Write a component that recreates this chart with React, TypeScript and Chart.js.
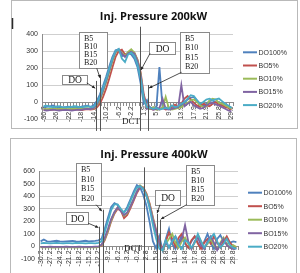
import { useEffect, useRef } from "react";
import { Chart, registerables } from "chart.js";

Chart.register(...registerables);
Chart.defaults.font.family = "Liberation Sans";

const SERIES_NAMES = ["DO100%", "BO5%", "BO10%", "BO15%", "BO20%"];
const SERIES_COLORS = ["#4F81BD", "#C0504D", "#9BBB59", "#8064A2", "#4BACC6"];

// ---- 200 kW: crank angle (deg) and injection pressure (bar) ----
const anglesA = [
  "-30.3", "-29.3", "-28.3", "-27.3", "-26.3", "-25.3", "-24.3", "-23.3", "-22.3", "-21.3",
  "-20.3", "-19.3", "-18.3", "-17.3", "-16.3", "-15.3", "-14.3", "-13.3", "-12.2", "-11.2",
  "-10.2", "-9.2", "-8.2", "-7.2", "-6.2", "-5.2", "-4.2", "-3.2", "-2.2", "-1.2",
  "-0.1", "0.9", "1.9", "2.9", "3.9", "4.9", "5.9", "6.9", "7.9", "8.9",
  "9.9", "10.9", "11.9", "12.9", "13.9", "14.9", "15.9", "16.9", "17.9", "18.9",
  "19.9", "20.9", "21.9", "22.9", "23.8", "24.8", "25.8", "26.8", "27.9", "28.9", "29.9",
];
const do100A = [
  -30, -28, -25, -20, -28, -30, -32, -30, -28, -30, -32, -30, -28, -25, -22, -28,
  -20, 5, 45, 95, 150, 210, 265, 305, 310,
  270, 275, 290, 280, 255, 205, 110, -10, 12, -40,
  -35, -40, 205, -30, -40, -35, -40, -30, -35,
  -20, -5, 15, 25, 30, 10, -15, -25, -10, 5, 10, -5, 0, -15, -20, -25, -35,
];
const bo5A = [
  -45, -45, -48, -45, -42, -45, -48, -45, -45, -42, -45, -45, -48, -45, -42, -45,
  -42, -32, -10, 30, 80, 140, 205, 265, 300,
  308, 280, 285, 298, 290, 250, 175, 45, -25, -40,
  -45, -40, -45, -35, -45, -40, -30, -15, -30,
  -10, 20, 35, 15, -5, -20, -30, -10, -20, -25, -10, 0, -15, -20, -30, -35, -45,
];
const bo10A = [
  -40, -42, -40, -38, -42, -40, -38, -40, -42, -40, -38, -40, -40, -38, -36, -40,
  -38, -20, 10, 60, 115, 175, 240, 290, 308,
  290, 270, 295, 310, 290, 245, 165, 25, -35, -40,
  -30, -45, -40, -35, 30, -35, -45, -40, -35,
  -30, -15, -5, 10, 15, 0, -20, -30, -25, 10, 20, 15, -5, -10, -20, -30, -40,
];
const bo15A = [
  -48, -50, -48, -45, -48, -50, -48, -46, -48, -50, -48, -45, -46, -42, -40, -42,
  -35, -15, 20, 70, 125, 185, 250, 295, 310,
  285, 265, 285, 295, 285, 240, 160, 30, -40, -30,
  -45, -40, -35, 20, -40, -45, -40, -35, -30,
  100, -25, -10, 0, -20, -30, -40, -35, -20, -10, -5, -15, -20, -30, -40, -50, -55,
];
const bo20A = [
  -25, -22, -28, -30, -28, -25, -30, -32, -30, -28, -25, -28, -30, -28, -25, -30,
  -28, -5, 30, 80, 135, 195, 255, 300, 312,
  255, 235, 280, 290, 270, 220, 140, 20, -30, -35,
  -40, -35, -45, -40, -35, -40, -20, -30, -25,
  -10, 0, 20, 40, 35, 10, -10, 0, 15, 20, 10, 15, 20, 5, -10, -20, -35,
];

// ---- 400 kW ----
const anglesB = [
  "-30.2", "-29.2", "-28.2", "-27.2", "-26.2", "-25.2", "-24.2", "-23.2", "-22.2", "-21.2",
  "-20.2", "-19.2", "-18.2", "-17.2", "-16.2", "-15.2", "-14.2", "-13.2", "-12.2", "-11.2",
  "-10.2", "-9.2", "-8.2", "-7.2", "-6.2", "-5.2", "-4.2", "-3.2", "-2.2", "-1.2",
  "-0.2", "0.8", "1.8", "2.8", "3.8", "4.8", "5.8", "6.8", "7.8", "8.8",
  "9.8", "10.8", "11.8", "12.8", "13.8", "14.8", "15.8", "16.8", "17.8", "18.8",
  "19.8", "20.8", "21.8", "22.8", "23.8", "24.8", "25.8", "26.8", "27.8", "28.8",
  "29.8", "30.8",
];
const do100B = [
  40, 55, 40, 38, 42, 45, 40, 38, 40, 42, 44, 40, 38, 42, 45, 40, 42, 44, 48,
  60, 140, 230, 315, 345, 330, 285, 270, 315, 375, 435, 488, 470,
  410, 320, 190, 40, -15, 80, -30, 60, 140, 20,
  -20, 30, 90, 20, -10, 40, 80, 30, -10, 40,
  100, 30, -20, 60, 90, 40, 20, 30, 40, 35,
];
const bo5B = [
  -5, -6, -5, -4, -5, -6, -5, -5, -4, -6, -5, -5, -4, -5, -6, -5, -5, -4, -3,
  5, 50, 120, 200, 260, 300, 285, 225, 250, 305, 365, 425, 470,
  470, 420, 340, 230, 130, 30, -20, 40, 110, 60,
  0, 70, 100, 30, -10, 50, 80, 20, -20, 30,
  60, 20, 80, 30, -10, 40, 80, 30, 0, -10,
];
const bo10B = [
  -8, -8, -7, -8, -9, -8, -7, -8, -8, -7, -8, -9, -8, -7, -8, -8, -7, -8, -6,
  10, 60, 130, 210, 270, 310, 290, 245, 265, 320, 380, 440, 485,
  465, 410, 330, 220, 110, 10, -30, 20, 60, 100,
  30, -10, 40, 70, 20, -20, 30, 90, 40, -10,
  20, 60, 10, -20, 30, 70, 20, -10, 10, -5,
];
const bo15B = [
  -3, -4, -3, -2, -3, -4, -3, -3, -2, -4, -3, -3, -2, -3, -4, -3, -3, -2, -2,
  15, 70, 140, 220, 275, 310, 280, 250, 270, 320, 375, 435, 480,
  460, 400, 320, 210, 120, 15, -25, 30, -10, 40,
  80, 20, 60, 170, 40, -20, 40, 70, 10, -20,
  40, 80, 30, -30, 20, 60, 10, -10, -20, -15,
];
const bo20B = [
  25, 28, 26, 24, 27, 28, 26, 25, 27, 26, 25, 28, 27, 26, 25, 27, 26, 25, 28,
  40, 115, 200, 290, 335, 335, 300, 270, 300, 360, 420, 470, 478,
  455, 400, 300, 170, 60, -20, -30, 50, -10, 40,
  80, 10, -20, 50, 30, -10, 30, 100, 40, -10,
  30, 70, 100, 40, -10, 20, 60, 10, -10, -20,
];

type Pt = [number, number]; // [crank angle, pressure]
type Marker = { angle: number; top: number; bottom: number };
type Callout = { a: Pt; b: Pt; lines: string[] };
type Arrow = { from: Pt; to: Pt };

type Cfg = {
  title: string;
  titleX: number;
  titleY: number;
  angles: string[];
  labelEvery: number;
  series: number[][];
  yMin: number;
  yMax: number;
  padding: { left: number; top: number; right: number; bottom: number };
  yAxisWidth: number;
  legend: { lineX: number; textX: number; y0: number; dy: number };
  frame: { left: number; top: number; right: number; bottom: number };
  handle?: boolean;
  markers: Marker[];
  callouts: Callout[];
  arrows: Arrow[];
  dct: Pt;
};

const cfgA: Cfg = {
  title: "Inj. Pressure 200kW",
  titleX: 153.5,
  titleY: 17,
  angles: anglesA,
  labelEvery: 4,
  series: [do100A, bo5A, bo10A, bo15A, bo20A],
  yMin: -100,
  yMax: 400,
  padding: { left: 0, top: 34, right: 67, bottom: 17 },
  yAxisWidth: 42,
  legend: { lineX: 243, textX: 258.5, y0: 52.3, dy: 13.2 },
  frame: { left: 11.5, top: 0.5, right: 297.5, bottom: 128.5 },
  handle: true,
  markers: [
    { angle: -13.65, top: 124, bottom: -170 },
    { angle: -12.08, top: 159, bottom: -170 },
    { angle: 0.8, top: 443, bottom: -170 },
    { angle: 3.35, top: 100, bottom: -170 },
  ],
  callouts: [
    { a: [-24.5, 159], b: [-16.5, 106], lines: ["DO"] },
    { a: [-19.0, 414], b: [-10.0, 198], lines: ["B5", "B10", "B15", "B20"] },
    { a: [3.6, 355], b: [11.9, 282], lines: ["DO"] },
    { a: [13.6, 414], b: [22.6, 169], lines: ["B5", "B10", "B15", "B20"] },
  ],
  arrows: [
    { from: [-16.5, 112], to: [-13.8, 81] },
    { from: [-13.3, 198], to: [-12.15, 141] },
    { from: [3.9, 286], to: [1.0, 188] },
    { from: [14.0, 175], to: [3.6, 82] },
  ],
  dct: [-2.3, -115],
};

const cfgB: Cfg = {
  title: "Inj. Pressure 400kW",
  titleX: 154,
  titleY: 18.5,
  angles: anglesB,
  labelEvery: 3,
  series: [do100B, bo5B, bo10B, bo15B, bo20B],
  yMin: -100,
  yMax: 600,
  padding: { left: 0, top: 35, right: 62, bottom: 14 },
  yAxisWidth: 39,
  legend: { lineX: 248, textX: 263.5, y0: 56.7, dy: 13.5 },
  frame: { left: 10.5, top: 2.5, right: 296.5, bottom: 140 },
  markers: [
    { angle: -11.9, top: 157, bottom: -220 },
    { angle: -10.9, top: 292, bottom: -220 },
    { angle: 1.9, top: 629, bottom: -220 },
    { angle: 6.06, top: 260, bottom: -220 },
    { angle: 7.15, top: 213, bottom: -220 },
  ],
  callouts: [
    { a: [-22.3, 276], b: [-15.4, 181], lines: ["DO"] },
    { a: [-19.2, 666], b: [-11.4, 332], lines: ["B5", "B10", "B15", "B20"] },
    { a: [5.44, 451], b: [13.2, 332], lines: ["DO"] },
    { a: [15.1, 650], b: [23.8, 332], lines: ["B5", "B10", "B15", "B20"] },
  ],
  arrows: [
    { from: [-15.4, 185], to: [-12.2, 150] },
    { from: [-12.9, 332], to: [-11.1, 280] },
    { from: [7.0, 332], to: [6.1, 265] },
    { from: [15.3, 332], to: [7.3, 218] },
  ],
  dct: [-1.4, -18],
};

function angleToIndex(angles: number[], a: number): number {
  for (let k = 0; k < angles.length - 1; k++) {
    if (a <= angles[k + 1] || k === angles.length - 2) {
      return k + (a - angles[k]) / (angles[k + 1] - angles[k]);
    }
  }
  return angles.length - 1;
}

function makeDecor(cfg: Cfg) {
  return {
    id: "decor",
    afterDraw(chart: any) {
      const ctx: CanvasRenderingContext2D = chart.ctx;
      const xs = chart.scales.x;
      const ys = chart.scales.y;
      const nums = cfg.angles.map(Number);
      const px = (a: number) => xs.getPixelForValue(angleToIndex(nums, a));
      const py = (v: number) => ys.getPixelForValue(v);
      const line = (x1: number, y1: number, x2: number, y2: number) => {
        ctx.beginPath();
        ctx.moveTo(x1, y1);
        ctx.lineTo(x2, y2);
        ctx.stroke();
      };
      ctx.save();

      // outer frame
      const f = cfg.frame;
      ctx.strokeStyle = "#b9b9b9";
      ctx.lineWidth = 1;
      ctx.strokeRect(f.left, f.top, f.right - f.left, f.bottom - f.top);
      if (cfg.handle) {
        ctx.strokeStyle = "#2a2a2a";
        ctx.lineWidth = 1.5;
        line(f.left + 1, 18, f.left + 1, 29);
      }

      // title
      ctx.fillStyle = "#111";
      ctx.font = 'bold 11px "Open Sans"';
      ctx.textAlign = "center";
      ctx.textBaseline = "middle";
      ctx.fillText(cfg.title, cfg.titleX, cfg.titleY);

      // legend
      ctx.font = '7px "Liberation Sans"';
      ctx.textAlign = "left";
      chart.data.datasets.forEach((ds: any, k: number) => {
        const y = cfg.legend.y0 + k * cfg.legend.dy;
        ctx.strokeStyle = ds.borderColor;
        ctx.lineWidth = 2;
        line(cfg.legend.lineX, y, cfg.legend.textX - 1.5, y);
        ctx.fillStyle = "#333";
        ctx.fillText(ds.label, cfg.legend.textX, y + 0.5);
      });

      // injection timing markers
      ctx.strokeStyle = "#555";
      ctx.lineWidth = 1;
      cfg.markers.forEach((m) => {
        const x = Math.round(px(m.angle)) + 0.5;
        line(x, py(m.top), x, py(m.bottom));
      });

      // callout boxes
      cfg.callouts.forEach((c) => {
        const x1 = Math.round(px(c.a[0])) + 0.5;
        const y1 = Math.round(py(c.a[1])) + 0.5;
        const x2 = Math.round(px(c.b[0])) + 0.5;
        const y2 = Math.round(py(c.b[1])) + 0.5;
        ctx.fillStyle = "#fff";
        ctx.fillRect(x1, y1, x2 - x1, y2 - y1);
        ctx.strokeStyle = "#8a8a8a";
        ctx.lineWidth = 1;
        ctx.strokeRect(x1, y1, x2 - x1, y2 - y1);
        ctx.fillStyle = "#222";
        ctx.textBaseline = "middle";
        if (c.lines.length === 1) {
          ctx.font = '9.5px "Liberation Serif"';
          ctx.textAlign = "center";
          ctx.fillText(c.lines[0], (x1 + x2) / 2, (y1 + y2) / 2 + 0.5);
        } else {
          ctx.font = '8px "Liberation Serif"';
          ctx.textAlign = "left";
          const step = (y2 - y1 - 4) / c.lines.length;
          c.lines.forEach((t, k) => {
            ctx.fillText(t, x1 + 4.5, y1 + 2 + step * (k + 0.5));
          });
        }
      });

      // arrows
      ctx.strokeStyle = "#222";
      ctx.fillStyle = "#222";
      ctx.lineWidth = 0.8;
      cfg.arrows.forEach((a) => {
        const x1 = px(a.from[0]);
        const y1 = py(a.from[1]);
        const x2 = px(a.to[0]);
        const y2 = py(a.to[1]);
        line(x1, y1, x2, y2);
        const ang = Math.atan2(y2 - y1, x2 - x1);
        const len = 3.5;
        ctx.beginPath();
        ctx.moveTo(x2, y2);
        ctx.lineTo(x2 - len * Math.cos(ang - 0.45), y2 - len * Math.sin(ang - 0.45));
        ctx.lineTo(x2 - len * Math.cos(ang + 0.45), y2 - len * Math.sin(ang + 0.45));
        ctx.closePath();
        ctx.fill();
      });

      // top dead centre label
      ctx.font = '9px "Liberation Serif"';
      ctx.textAlign = "center";
      ctx.textBaseline = "middle";
      ctx.fillStyle = "#222";
      ctx.fillText("DCT", px(cfg.dct[0]), py(cfg.dct[1]));

      ctx.restore();
    },
  };
}

function PressureChart({ cfg, top, height }: { cfg: Cfg; top: number; height: number }) {
  const ref = useRef<HTMLCanvasElement | null>(null);

  useEffect(() => {
    if (!ref.current) return;
    const tickFont = { size: 7, family: "Liberation Sans" };
    const chart = new Chart(ref.current, {
      type: "line",
      data: {
        labels: cfg.angles,
        datasets: cfg.series.map((data, k) => ({
          label: SERIES_NAMES[k],
          data,
          borderColor: SERIES_COLORS[k],
          backgroundColor: SERIES_COLORS[k],
          borderWidth: 1.8,
          pointRadius: 0,
          tension: 0,
          order: SERIES_NAMES.length - k,
        })),
      },
      options: {
        responsive: false,
        animation: false,
        devicePixelRatio: 1,
        layout: { padding: cfg.padding },
        plugins: { legend: { display: false }, tooltip: { enabled: false }, title: { display: false } },
        scales: {
          x: {
            type: "category",
            position: { y: 0 } as any,
            offset: true,
            grid: {
              display: true,
              drawOnChartArea: false,
              drawTicks: true,
              tickLength: 3,
              color: "#8c8c8c",
              offset: true,
            },
            border: { display: true, color: "#8c8c8c" },
            ticks: {
              autoSkip: false,
              maxRotation: 90,
              minRotation: 90,
              padding: 1,
              font: tickFont,
              color: "#333",
              callback: (_v: any, i: number) => (i % cfg.labelEvery === 0 ? cfg.angles[i] : ""),
            },
          },
          y: {
            min: cfg.yMin,
            max: cfg.yMax,
            grid: { color: "#cfcfcf", drawTicks: false },
            border: { display: true, color: "#8c8c8c" },
            ticks: { stepSize: 100, padding: 4, font: tickFont, color: "#333" },
            afterFit: (s: any) => {
              s.width = cfg.yAxisWidth;
            },
          },
        },
      },
      plugins: [makeDecor(cfg)],
    });
    return () => chart.destroy();
  }, [cfg]);

  return (
    <canvas
      ref={ref}
      width={300}
      height={height}
      style={{ position: "absolute", left: 0, top, width: 300, height }}
    />
  );
}

export default function App() {
  return (
    <div
      style={{
        position: "fixed",
        left: 0,
        top: 0,
        width: 300,
        height: 273,
        background: "#fff",
        overflow: "hidden",
      }}
    >
      <PressureChart cfg={cfgA} top={0} height={136} />
      <PressureChart cfg={cfgB} top={136} height={137} />
    </div>
  );
}
